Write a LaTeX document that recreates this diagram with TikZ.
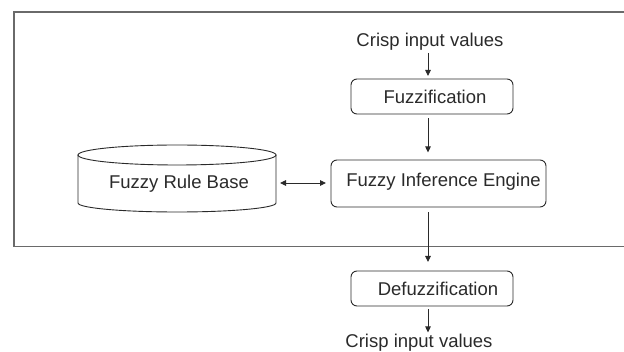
\documentclass[tikz,border=0pt]{standalone}
\usepackage{fontspec}
\setmainfont{Liberation Sans}
\usetikzlibrary{arrows.meta}
\definecolor{frame}{HTML}{6A6A6A}
\definecolor{ink}{HTML}{2A2A2A}
\begin{document}
\begin{tikzpicture}[x=1pt,y=-1pt,
  every node/.style={font=\fontsize{18.5}{20}\selectfont, text=ink},
  procbox/.style={draw=ink, line width=0.9pt, rounded corners=6pt, inner sep=0pt},
  label/.style={inner sep=0pt},
  flow/.style={draw=ink, line width=0.9pt, -{Triangle[length=6pt,width=5.5pt]}},
  flow2/.style={draw=ink, line width=0.9pt, {Triangle[length=6pt,width=5.5pt]}-{Triangle[length=6pt,width=5.5pt]}}]
\useasboundingbox (0,0) rectangle (624,352);
% outer frame, open on the right
\draw[frame, line width=1.3pt] (624,12) -- (14,12) -- (14,246.5) -- (624,246.5);
% nodes
\node[label] (cin) at (430,42) {Crisp input values};
\node[procbox, minimum width=162pt, minimum height=35pt] (fuzz) at (432,96.5) {\hspace*{6pt}Fuzzification};
\node[procbox, minimum width=215pt, minimum height=47pt, text depth=8pt] (fie) at (438.5,183.5) {\hspace*{10pt}Fuzzy Inference Engine};
\node[procbox, minimum width=162pt, minimum height=35pt] (defuzz) at (432,288.5) {\hspace*{12pt}Defuzzification};
\node[label] (cout) at (419,343) {Crisp input values};
% cylinder
\node[inner sep=0pt, minimum width=198pt, minimum height=57pt] (frb) at (177,183.5) {};
\draw[ink, line width=0.9pt, fill=white] (78,155) -- (78,203) arc[start angle=180, end angle=360, x radius=99pt, y radius=9pt] -- (276,155);
\draw[ink, line width=0.9pt] (177,155) ellipse[x radius=99pt, y radius=10pt];
\node[label] (frbtext) at (179,184) {Fuzzy Rule Base};
% connectors
\coordinate (a1) at (428,53);
\coordinate (a2) at (428,76);
\draw[flow] (a1) -- (a2);
\draw[flow] (fuzz.south -| a1) ++(0,4) -- ++(0,34);
\draw[flow] (fie.south -| a1) ++(0,5) -- (428,262);
\draw[flow] (defuzz.south -| a1) ++(0,3) -- ++(0,23);
\draw[flow2] (280,183) -- (326,183);
\end{tikzpicture}
\end{document}
